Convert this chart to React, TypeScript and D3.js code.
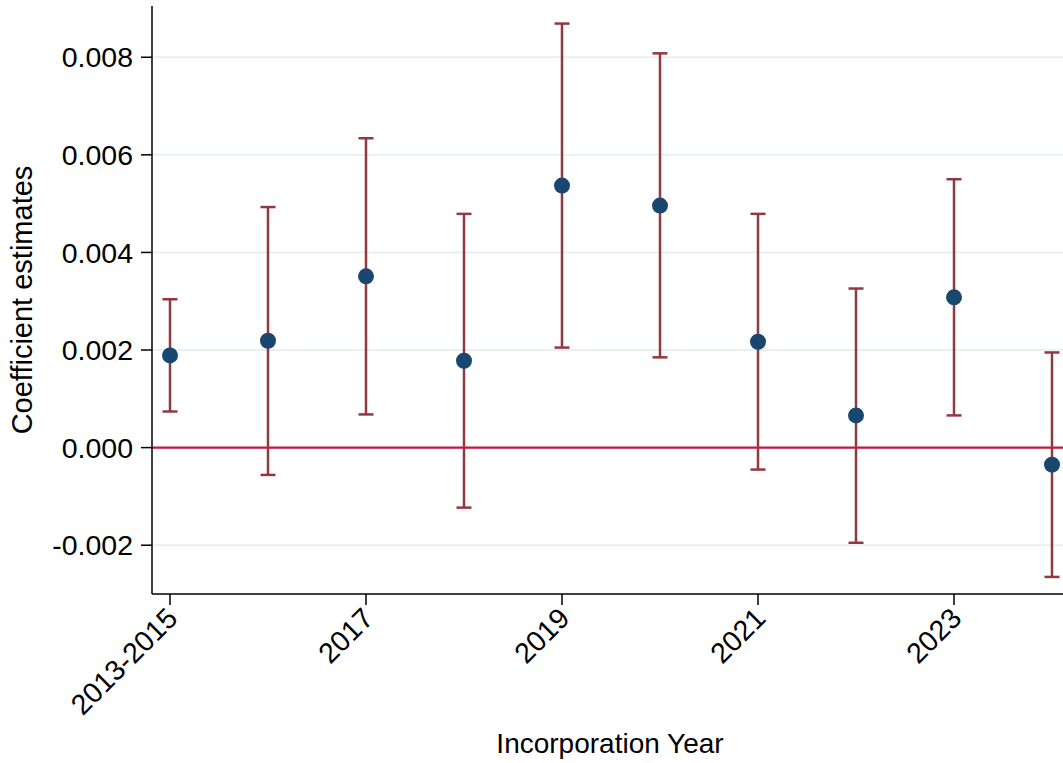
import React, { useEffect, useRef } from 'react';
import * as d3 from 'd3';

const categories = ['2013-2015', '2016', '2017', '2018', '2019', '2020', '2021', '2022', '2023', '2024'];
const coef = [0.00189, 0.00219, 0.00351, 0.00178, 0.00537, 0.00496, 0.00217, 0.00066, 0.00308, -0.00035];
const ciLow = [0.00074, -0.00056, 0.00068, -0.00123, 0.00205, 0.00185, -0.00045, -0.00195, 0.00066, -0.00265];
const ciHigh = [0.00304, 0.00493, 0.00634, 0.00479, 0.00869, 0.00808, 0.00479, 0.00326, 0.0055, 0.00195];
const xTickLabels = ['2013-2015', '2017', '2019', '2021', '2023'];
const yTicks = [-0.002, 0, 0.002, 0.004, 0.006, 0.008];

const W = 1063;
const H = 763;
const plot = { left: 152, right: 1070, top: 6, bottom: 594 };
const FONT = '"Liberation Sans", Arial, Helvetica, sans-serif';

export default function App() {
  const root = useRef<SVGSVGElement>(null);

  useEffect(() => {
    const svg = d3.select(root.current);
    svg.selectAll('*').remove();

    const x = d3
      .scalePoint<string>()
      .domain(categories)
      .range([plot.left + 18, plot.right - 18]);
    const y = d3
      .scaleLinear()
      .domain([-0.003, 0.00905])
      .range([plot.bottom, plot.top]);

    const data = categories.map((c, i) => ({ c, b: coef[i], lo: ciLow[i], hi: ciHigh[i] }));

    // grid
    svg
      .append('g')
      .selectAll('line')
      .data(yTicks.filter(d => d !== 0))
      .enter()
      .append('line')
      .attr('x1', plot.left)
      .attr('x2', W)
      .attr('y1', d => y(d))
      .attr('y2', d => y(d))
      .attr('stroke', '#e9f0f3')
      .attr('stroke-width', 2);

    // zero line
    svg
      .append('line')
      .attr('x1', plot.left)
      .attr('x2', W)
      .attr('y1', y(0))
      .attr('y2', y(0))
      .attr('stroke', '#c8143f')
      .attr('stroke-width', 2.2);

    // error bars
    const ci = svg.append('g').attr('stroke', '#923840').attr('stroke-width', 2.5);
    ci.selectAll('line.v')
      .data(data)
      .enter()
      .append('line')
      .attr('class', 'v')
      .attr('x1', d => x(d.c))
      .attr('x2', d => x(d.c))
      .attr('y1', d => y(d.lo))
      .attr('y2', d => y(d.hi));
    ['lo', 'hi'].forEach(k => {
      ci.selectAll('line.' + k)
        .data(data)
        .enter()
        .append('line')
        .attr('class', k)
        .attr('x1', d => x(d.c) - 7.5)
        .attr('x2', d => x(d.c) + 7.5)
        .attr('y1', d => y(d[k]))
        .attr('y2', d => y(d[k]));
    });

    // points
    svg
      .append('g')
      .selectAll('circle')
      .data(data)
      .enter()
      .append('circle')
      .attr('cx', d => x(d.c))
      .attr('cy', d => y(d.b))
      .attr('r', 8)
      .attr('fill', '#1a476f');

    // y axis
    const ya = svg.append('g').attr('stroke', '#000');
    ya.append('line')
      .attr('x1', plot.left)
      .attr('x2', plot.left)
      .attr('y1', plot.top)
      .attr('y2', plot.bottom)
      .attr('stroke-width', 1.5);
    yTicks.forEach(t => {
      ya.append('line')
        .attr('x1', plot.left - 11)
        .attr('x2', plot.left)
        .attr('y1', y(t))
        .attr('y2', y(t))
        .attr('stroke-width', 1.5);
      svg
        .append('text')
        .attr('x', plot.left - 19)
        .attr('y', y(t))
        .attr('dy', '0.36em')
        .attr('text-anchor', 'end')
        .attr('font-family', FONT)
        .attr('font-size', 28.5)
        .text(t.toFixed(3));
    });

    // x axis
    svg
      .append('line')
      .attr('x1', plot.left)
      .attr('x2', W)
      .attr('y1', plot.bottom)
      .attr('y2', plot.bottom)
      .attr('stroke', '#000')
      .attr('stroke-width', 1.5);
    xTickLabels.forEach(t => {
      const px = x(t);
      svg
        .append('line')
        .attr('x1', px)
        .attr('x2', px)
        .attr('y1', plot.bottom)
        .attr('y2', plot.bottom + 11)
        .attr('stroke', '#000')
        .attr('stroke-width', 1.5);
      svg
        .append('text')
        .attr('transform', `translate(${px - 5},${plot.bottom + 12}) rotate(-45)`)
        .attr('text-anchor', 'end')
        .attr('dy', '0.7em')
        .attr('font-family', FONT)
        .attr('font-size', 28.5)
        .text(t);
    });

    // titles
    svg
      .append('text')
      .attr('x', 610)
      .attr('y', 753)
      .attr('text-anchor', 'middle')
      .attr('font-family', FONT)
      .attr('font-size', 28)
      .text('Incorporation Year');
    svg
      .append('text')
      .attr('transform', `translate(32,${(plot.top + plot.bottom) / 2}) rotate(-90)`)
      .attr('text-anchor', 'middle')
      .attr('font-family', FONT)
      .attr('font-size', 29)
      .text('Coefficient estimates');
  }, []);

  return (
    <svg
      ref={root}
      width={W}
      height={H}
      style={{ position: 'absolute', left: 0, top: 0, background: '#fff' }}
    />
  );
}
